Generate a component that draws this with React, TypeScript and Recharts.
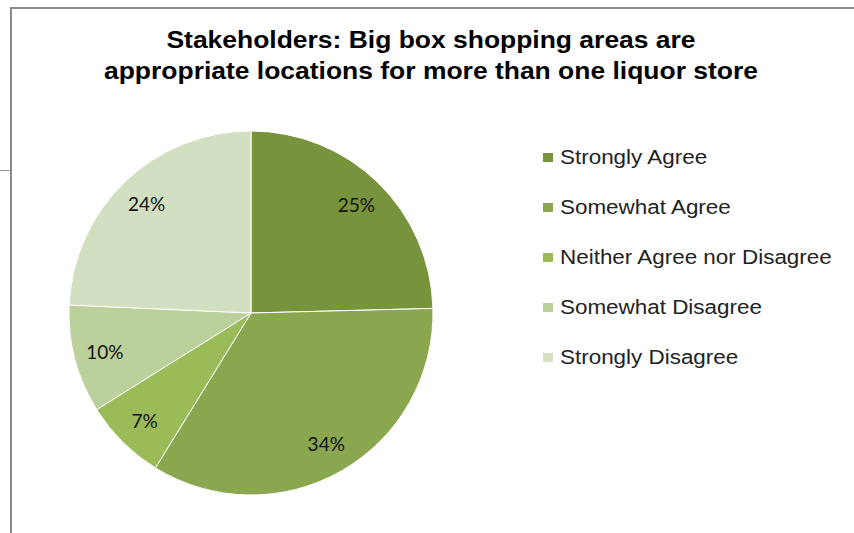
import { PieChart, Pie, Cell } from 'recharts';

const categories = [
  'Strongly Agree',
  'Somewhat Agree',
  'Neither Agree nor Disagree',
  'Somewhat Disagree',
  'Strongly Disagree',
];
const shares = [24.6, 34.2, 7.3, 9.6, 24.3];
const colors = ['#77933c', '#8aa64f', '#9bbb59', '#bbd09a', '#d2dfc0'];

const titleLines = [
  'Stakeholders: Big box shopping areas are',
  'appropriate locations for more than one liquor store',
];

const data = categories.map((name, i) => ({ name, value: shares[i] }));

const RADIAN = Math.PI / 180;

const renderLabel = (props: any) => {
  const { cx, cy, midAngle, outerRadius, value } = props;
  const r = outerRadius * 0.83;
  const x = cx + r * Math.cos(-midAngle * RADIAN);
  const y = cy + r * Math.sin(-midAngle * RADIAN);
  return (
    <text
      x={x}
      y={y}
      fill="#111"
      fontSize={19}
      fontFamily="Lato, 'Open Sans', sans-serif"
      textAnchor="middle"
      dominantBaseline="central"
    >
      {`${Math.round(value)}%`}
    </text>
  );
};

export default function App() {
  return (
    <div
      style={{
        position: 'absolute',
        left: 0,
        top: 0,
        width: 854,
        height: 533,
        background: '#fff',
        overflow: 'hidden',
      }}
    >
      {/* slide frame */}
      <div
        style={{
          position: 'absolute',
          left: 10,
          top: 7,
          width: 900,
          height: 600,
          borderTop: '2px solid #8a8a8a',
          borderLeft: '2px solid #8a8a8a',
        }}
      />
      <div
        style={{
          position: 'absolute',
          left: 0,
          top: 170,
          width: 10,
          height: 1,
          background: '#9a9a9a',
        }}
      />
      <div
        style={{
          position: 'absolute',
          left: 0,
          top: 25,
          width: 862,
          textAlign: 'center',
          fontFamily: "'Liberation Sans', Arial, sans-serif",
          fontWeight: 'bold',
          fontSize: 23,
          lineHeight: '31px',
          color: '#000',
          transform: 'scaleX(1.15)',
          transformOrigin: '431px 0',
        }}
      >
        {titleLines.map((t) => (
          <div key={t}>{t}</div>
        ))}
      </div>
      <div style={{ position: 'absolute', left: 0, top: 0 }}>
        <PieChart width={854} height={533}>
          <Pie
            data={data}
            dataKey="value"
            nameKey="name"
            cx={246}
            cy={308}
            outerRadius={182}
            startAngle={90}
            endAngle={-270}
            stroke="#ffffff"
            strokeWidth={1}
            label={renderLabel}
            labelLine={false}
            isAnimationActive={false}
          >
            {data.map((d, i) => (
              <Cell key={d.name} fill={colors[i]} />
            ))}
          </Pie>
        </PieChart>
      </div>
      {/* legend */}
      <div style={{ position: 'absolute', left: 543, top: 132 }}>
        {categories.map((name, i) => (
          <div
            key={name}
            style={{ display: 'flex', alignItems: 'center', height: 50 }}
          >
            <span
              style={{
                width: 10,
                height: 9,
                background: colors[i],
                marginRight: 7,
                flexShrink: 0,
              }}
            />
            <span
              style={{
                fontFamily: "'Liberation Sans', Arial, sans-serif",
                fontSize: 19.5,
                color: '#222',
                whiteSpace: 'nowrap',
                display: 'inline-block',
                transform: 'scaleX(1.15)',
                transformOrigin: '0 50%',
              }}
            >
              {name}
            </span>
          </div>
        ))}
      </div>
    </div>
  );
}
